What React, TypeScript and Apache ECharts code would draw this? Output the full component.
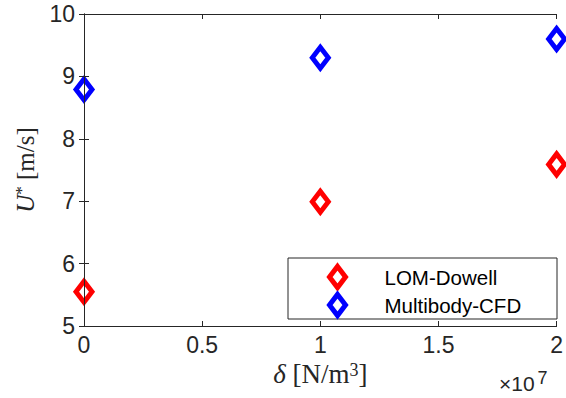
import React, { useEffect, useRef } from "react";
import * as echarts from "echarts";

const xValues = [0, 1e7, 2e7];
const lomDowell = [5.55, 6.99, 7.59];
const multibodyCFD = [8.79, 9.3, 9.6];
const xTickLabels = ["0", "0.5", "1", "1.5", "2"];
const seriesNames = ["LOM-Dowell", "Multibody-CFD"];
const seriesColors = ["#ff0000", "#0000ff"];

const TXT = "#262626";
const SANS = "'Liberation Sans', Arial, Helvetica, sans-serif";
const SERIF = "'Liberation Serif', 'DejaVu Serif', serif";

export default function App() {
  const ref = useRef<HTMLDivElement>(null);
  useEffect(() => {
    if (!ref.current) return;
    const chart = echarts.init(ref.current, null, { renderer: "svg" });
    const axisCommon = {
      type: "value" as const,
      axisLine: { show: true, lineStyle: { color: TXT, width: 1 } },
      axisTick: { show: true, inside: true, length: 5, lineStyle: { color: TXT, width: 1 } },
      splitLine: { show: false },
      z: 5,
    };
    const xCommon = { ...axisCommon, min: 0, max: 2e7, interval: 5e6 };
    const yCommon = { ...axisCommon, min: 5, max: 10, interval: 1 };
    const markerStyle = (i: number) => ({
      color: "#ffffff",
      borderColor: seriesColors[i],
      borderWidth: 5,
      opacity: 1,
    });
    const mkSeries = (i: number, vals: number[]) => ({
      type: "scatter",
      name: seriesNames[i],
      symbol: "diamond",
      symbolSize: [16, 21],
      data: xValues.map((x, k) => [x, vals[k]]),
      itemStyle: markerStyle(i),
      z: 2,
    });
    chart.setOption({
      animation: false,
      backgroundColor: "#ffffff",
      grid: { left: 84, right: 5, top: 14, bottom: 72, containLabel: false },
      xAxis: [
        {
          ...xCommon,
          position: "bottom",
          axisLabel: {
            show: true,
            color: TXT,
            fontFamily: SANS,
            fontSize: 23,
            margin: 7,
            formatter: (v: number) => xTickLabels[Math.round(v / 5e6)] ?? "",
          },
          name: "{i|δ} [N/m{sup|3}]",
          nameLocation: "middle",
          nameGap: 30,
          nameTextStyle: {
            color: TXT,
            fontFamily: SERIF,
            fontSize: 27,
            verticalAlign: "top",
            rich: {
              i: { fontFamily: SERIF, fontSize: 27, fontStyle: "italic", color: TXT },
              sup: { fontFamily: SERIF, fontSize: 18, color: TXT, verticalAlign: "top", padding: [0, 0, 8, 0] },
            },
          },
        },
        { ...xCommon, position: "top", axisLabel: { show: false } },
      ],
      yAxis: [
        {
          ...yCommon,
          position: "left",
          axisLabel: { show: true, color: TXT, fontFamily: SANS, fontSize: 23, margin: 9 },
          name: "{i|U}{sup|*} [m/s]",
          nameLocation: "middle",
          nameRotate: 90,
          nameGap: 46,
          nameTextStyle: {
            color: TXT,
            fontFamily: SERIF,
            fontSize: 25,
            rich: {
              i: { fontFamily: SERIF, fontSize: 25, fontStyle: "italic", color: TXT },
              sup: { fontFamily: SERIF, fontSize: 17, color: TXT, verticalAlign: "top", padding: [0, 0, 8, 0] },
            },
          },
        },
        { ...yCommon, position: "right", axisLabel: { show: false } },
      ],
      legend: {
        data: seriesNames.map((n, i) => ({ name: n, itemStyle: markerStyle(i) })),
        orient: "vertical",
        left: 327,
        top: 264,
        padding: 0,
        itemWidth: 16,
        itemHeight: 21,
        itemGap: 2,
        icon: "diamond",
        symbolKeepAspect: false,
        textStyle: { color: "#000000", fontFamily: SANS, fontSize: 20.5, padding: [0, 0, 0, 34] },
        z: 10,
      },
      graphic: [
        {
          type: "rect",
          shape: { x: 288, y: 258, width: 269, height: 61 },
          style: { fill: "#ffffff", stroke: TXT, lineWidth: 1 },
          z: 8,
        },
        {
          type: "text",
          x: 499,
          y: 369,
          style: {
            text: "×10{sup|7}",
            fill: TXT,
            font: `21px ${SANS}`,
            rich: { sup: { fontSize: 18, fontFamily: SANS, fill: TXT, verticalAlign: "top", padding: [0, 0, 10, 3] } },
          },
          z: 8,
        },
      ],
      series: [mkSeries(0, lomDowell), mkSeries(1, multibodyCFD)],
    });
    return () => chart.dispose();
  }, []);
  return (
    <div
      ref={ref}
      style={{ position: "fixed", left: 0, top: 0, width: 566, height: 398, background: "#fff" }}
    />
  );
}
